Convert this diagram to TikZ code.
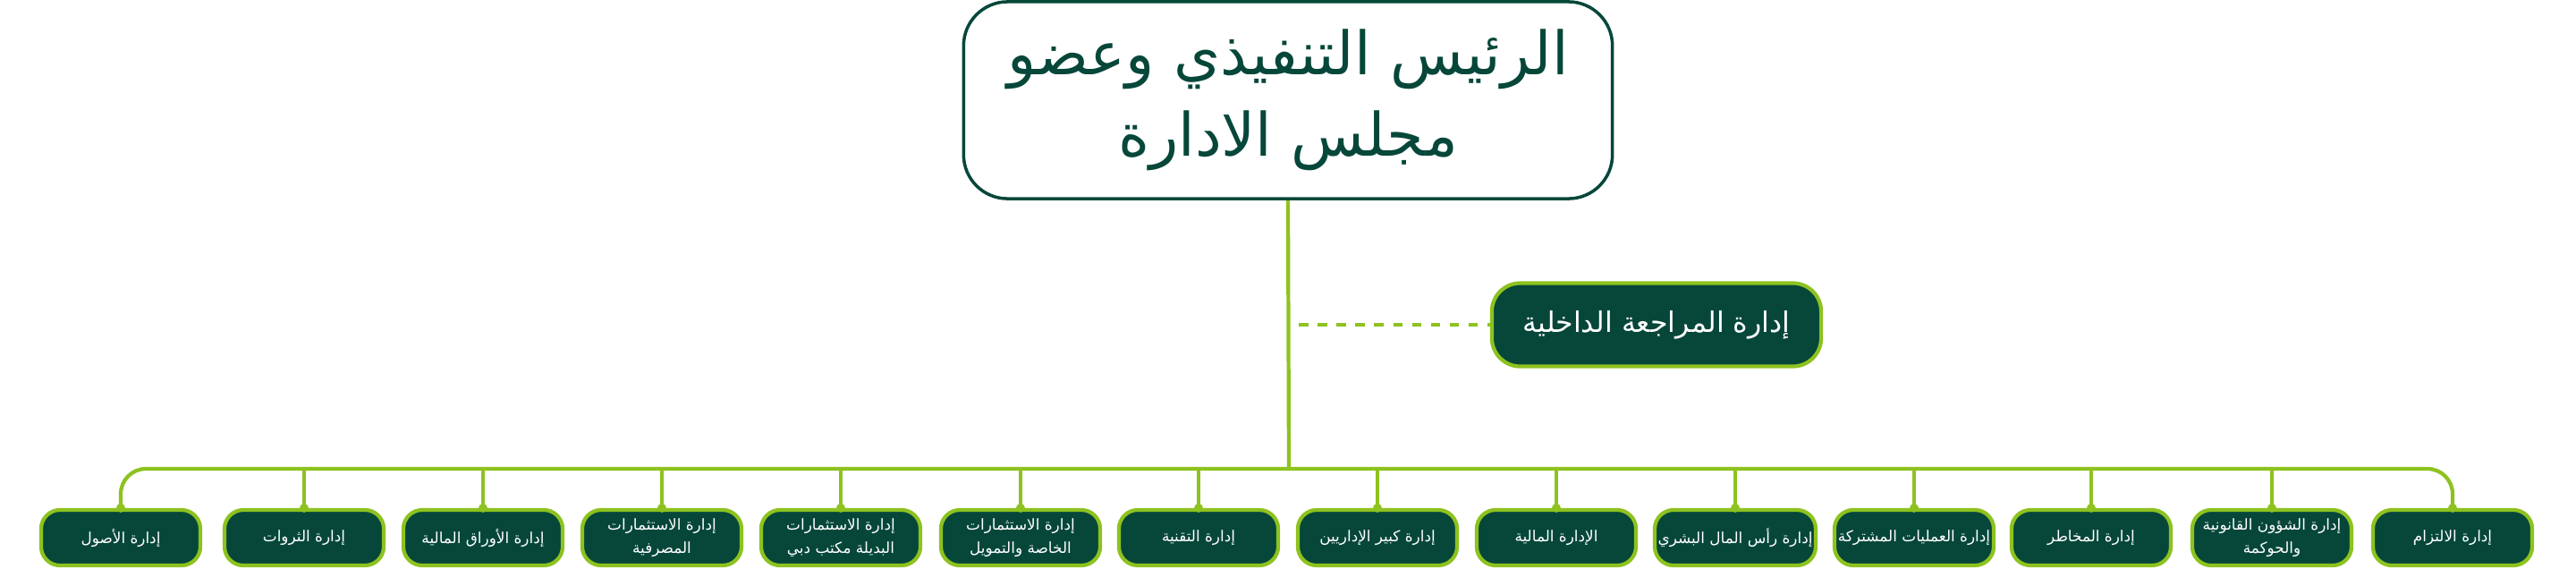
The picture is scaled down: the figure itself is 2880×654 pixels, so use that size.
\documentclass[tikz,border=0pt]{standalone}
\usepackage{fontspec}
\TeXXeTstate=1
\setmainfont{DejaVu Sans}
\newfontfamily\arabicfont[Script=Arabic]{DejaVu Sans}
\definecolor{dgreen}{HTML}{06473A}
\definecolor{lime}{HTML}{8DC21F}
\newcommand{\AR}[1]{\beginR #1\endR}
\begin{document}
\begin{tikzpicture}[x=0.01cm,y=-0.01cm,
  topbox/.style={draw=dgreen,line width=1pt,fill=white,rounded corners=14pt,minimum width=7.25cm,minimum height=2.2cm,text=dgreen,font=\arabicfont\fontsize{19}{26}\selectfont,align=center},
  auditbox/.style={draw=lime,line width=1.2pt,fill=dgreen,rounded corners=9pt,minimum width=3.68cm,minimum height=0.93cm,text=white,font=\arabicfont\fontsize{9}{12}\selectfont},
  dept/.style={draw=lime,line width=1.2pt,fill=dgreen,rounded corners=6pt,minimum width=1.78cm,minimum height=0.62cm,text=white,font=\arabicfont\fontsize{4.8}{7.5}\selectfont,align=center,inner sep=1pt},
  conn/.style={draw=lime,line width=1.2pt}]
\useasboundingbox (0,0) rectangle (2880,654);
\node[topbox] (top) at (1440,112) {\AR{الرئيس التنفيذي وعضو}\\\AR{مجلس الادارة}};
\node[auditbox] (audit) at (1852,363) {\AR{إدارة المراجعة الداخلية}};
\coordinate (bus) at (1441,524);
\coordinate (dashstart) at (1452,363);
\foreach \i/\x/\t in {
 1/135/{\AR{إدارة الأصول}},
 2/340/{\AR{إدارة الثروات}},
 3/540/{\AR{إدارة الأوراق المالية}},
 4/740/{\AR{إدارة الاستثمارات}\\\AR{المصرفية}},
 5/940/{\AR{إدارة الاستثمارات}\\\AR{البديلة مكتب دبي}},
 6/1141/{\AR{إدارة الاستثمارات}\\\AR{الخاصة والتمويل}},
 7/1340/{\AR{إدارة التقنية}},
 8/1540/{\AR{إدارة كبير الإداريين}},
 9/1740/{\AR{الإدارة المالية}},
 10/1940/{\AR{إدارة رأس المال البشري}},
 11/2140/{\AR{إدارة العمليات المشتركة}},
 12/2338/{\AR{إدارة المخاطر}},
 13/2540/{\AR{إدارة الشؤون القانونية}\\\AR{والحوكمة}},
 14/2742/{\AR{إدارة الالتزام}}}
 {\node[dept] (b\i) at (\x,601) {\t};}
\draw[conn] (top.south) -- (bus);
\draw[conn,dashed] (dashstart) -- (audit.west);
\draw[conn,rounded corners=8pt] (b1.north) |- (bus) -| (b14.north);
\foreach \i in {2,...,13} {\draw[conn] (b\i.north) -- (b\i.north |- bus);}
\foreach \i in {1,...,14} {\fill[lime] (b\i.north) circle (5);}
\end{tikzpicture}
\end{document}
